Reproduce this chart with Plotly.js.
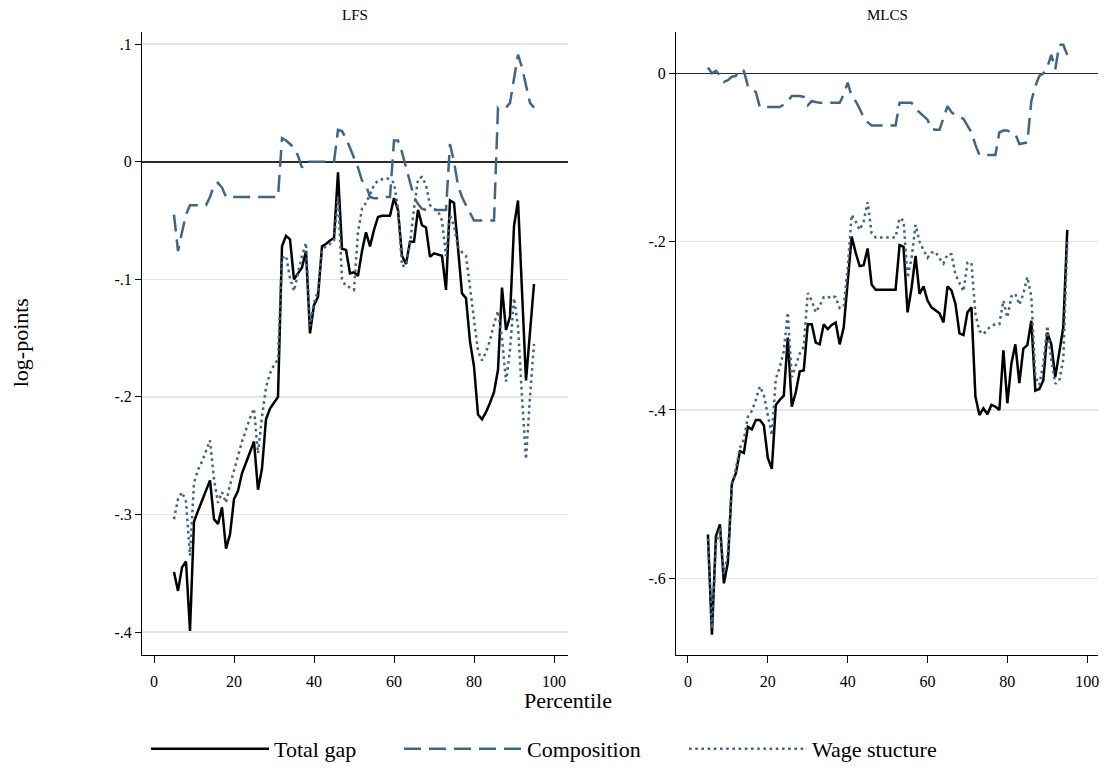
<!DOCTYPE html>
<html>
<head>
<meta charset="utf-8">
<script src="https://cdn.plot.ly/plotly-3.0.1.min.js"></script>
<style>html,body{margin:0;padding:0;background:#fff;}#chart{width:1107px;height:770px;}</style>
</head>
<body>
<div id="chart"></div>
<script>
const percentiles = [5,6,7,8,9,10,11,12,13,14,15,16,17,18,19,20,21,22,23,24,25,26,27,28,29,30,31,32,33,34,35,36,37,38,39,40,41,42,43,44,45,46,47,48,49,50,51,52,53,54,55,56,57,58,59,60,61,62,63,64,65,66,67,68,69,70,71,72,73,74,75,76,77,78,79,80,81,82,83,84,85,86,87,88,89,90,91,92,93,94,95];

const lfsTotal = [
 -0.349,-0.365,-0.345,-0.340,-0.399,-0.306,-0.297,-0.288,-0.280,-0.271,
 -0.304,-0.308,-0.294,-0.329,-0.317,-0.287,-0.280,-0.265,-0.256,-0.247,
 -0.238,-0.279,-0.261,-0.219,-0.210,-0.205,-0.200,-0.072,-0.063,-0.066,
 -0.100,-0.095,-0.090,-0.076,-0.146,-0.122,-0.115,-0.072,-0.070,-0.067,
 -0.065,-0.009,-0.074,-0.075,-0.095,-0.094,-0.097,-0.076,-0.060,-0.072,
 -0.058,-0.047,-0.046,-0.046,-0.046,-0.031,-0.041,-0.080,-0.087,-0.068,
 -0.068,-0.041,-0.054,-0.056,-0.081,-0.078,-0.079,-0.080,-0.109,-0.033,
 -0.035,-0.073,-0.112,-0.116,-0.153,-0.174,-0.215,-0.219,-0.213,-0.205,
 -0.196,-0.177,-0.107,-0.143,-0.132,-0.055,-0.033,-0.110,-0.186,-0.145,
 -0.104];

const lfsComposition = [
 -0.045,-0.076,-0.060,-0.045,-0.037,-0.037,-0.037,-0.037,-0.037,-0.030,
 -0.020,-0.018,-0.022,-0.030,-0.030,-0.030,-0.030,-0.030,-0.030,-0.030,
 -0.030,-0.030,-0.030,-0.030,-0.030,-0.030,-0.030,0.020,0.018,0.015,
 0.012,0.005,-0.005,0.000,0.000,0.000,0.000,0.000,0.000,0.000,
 0.000,0.027,0.026,0.020,0.012,0.004,-0.005,-0.016,-0.020,-0.030,
 -0.031,-0.031,-0.031,-0.030,-0.030,0.018,0.018,0.008,-0.005,-0.018,
 -0.030,-0.036,-0.040,-0.041,-0.041,-0.041,-0.041,-0.041,-0.041,0.015,
 0.000,-0.020,-0.030,-0.037,-0.044,-0.050,-0.050,-0.050,-0.050,-0.050,
 -0.050,0.046,0.046,0.046,0.050,0.070,0.091,0.080,0.065,0.050,
 0.046];

const lfsWage = [
 -0.304,-0.287,-0.281,-0.289,-0.335,-0.273,-0.262,-0.255,-0.246,-0.237,
 -0.270,-0.290,-0.281,-0.290,-0.275,-0.262,-0.250,-0.238,-0.228,-0.218,
 -0.210,-0.248,-0.217,-0.192,-0.180,-0.173,-0.168,-0.082,-0.080,-0.099,
 -0.110,-0.094,-0.080,-0.069,-0.140,-0.120,-0.110,-0.075,-0.072,-0.070,
 -0.067,-0.030,-0.100,-0.106,-0.107,-0.109,-0.060,-0.040,-0.035,-0.028,
 -0.020,-0.016,-0.015,-0.014,-0.015,-0.018,-0.040,-0.089,-0.088,-0.070,
 -0.040,-0.015,-0.013,-0.020,-0.037,-0.040,-0.042,-0.050,-0.080,-0.045,
 -0.055,-0.072,-0.077,-0.080,-0.107,-0.132,-0.161,-0.169,-0.162,-0.152,
 -0.138,-0.127,-0.150,-0.187,-0.160,-0.116,-0.140,-0.200,-0.253,-0.200,
 -0.155];

const mlcsTotal = [
 -0.548,-0.667,-0.550,-0.536,-0.606,-0.581,-0.487,-0.475,-0.449,-0.451,
 -0.420,-0.423,-0.412,-0.412,-0.418,-0.457,-0.470,-0.394,-0.388,-0.383,
 -0.314,-0.396,-0.379,-0.354,-0.353,-0.298,-0.298,-0.320,-0.322,-0.298,
 -0.304,-0.299,-0.296,-0.322,-0.302,-0.247,-0.194,-0.213,-0.229,-0.228,
 -0.208,-0.251,-0.257,-0.257,-0.257,-0.257,-0.257,-0.257,-0.204,-0.206,
 -0.284,-0.255,-0.217,-0.262,-0.253,-0.270,-0.278,-0.281,-0.285,-0.296,
 -0.253,-0.258,-0.274,-0.309,-0.311,-0.284,-0.278,-0.384,-0.406,-0.398,
 -0.405,-0.394,-0.396,-0.400,-0.329,-0.392,-0.345,-0.322,-0.368,-0.327,
 -0.323,-0.294,-0.377,-0.375,-0.365,-0.308,-0.322,-0.361,-0.331,-0.302,
 -0.186];

const mlcsComposition = [
 0.007,0.000,0.003,-0.002,-0.010,-0.008,-0.004,-0.003,0.005,0.003,
 -0.015,-0.020,-0.022,-0.040,-0.040,-0.040,-0.040,-0.040,-0.040,-0.037,
 -0.033,-0.027,-0.027,-0.027,-0.028,-0.038,-0.033,-0.034,-0.035,-0.035,
 -0.035,-0.035,-0.035,-0.035,-0.025,-0.011,-0.027,-0.033,-0.042,-0.052,
 -0.058,-0.062,-0.062,-0.062,-0.062,-0.062,-0.062,-0.062,-0.035,-0.035,
 -0.035,-0.035,-0.042,-0.046,-0.050,-0.055,-0.066,-0.067,-0.067,-0.052,
 -0.039,-0.046,-0.050,-0.052,-0.054,-0.062,-0.070,-0.085,-0.097,-0.097,
 -0.097,-0.097,-0.097,-0.070,-0.068,-0.068,-0.070,-0.072,-0.084,-0.083,
 -0.082,-0.033,-0.015,-0.003,0.000,0.007,0.022,0.005,0.034,0.034,
 0.022];

const mlcsWage = [
 -0.553,-0.660,-0.560,-0.540,-0.595,-0.570,-0.490,-0.470,-0.445,-0.435,
 -0.408,-0.401,-0.388,-0.372,-0.382,-0.408,-0.430,-0.363,-0.349,-0.330,
 -0.284,-0.361,-0.347,-0.333,-0.325,-0.261,-0.270,-0.284,-0.276,-0.266,
 -0.267,-0.264,-0.266,-0.279,-0.277,-0.231,-0.168,-0.176,-0.186,-0.176,
 -0.153,-0.190,-0.195,-0.195,-0.195,-0.195,-0.195,-0.195,-0.172,-0.175,
 -0.243,-0.220,-0.180,-0.200,-0.210,-0.219,-0.213,-0.212,-0.220,-0.226,
 -0.215,-0.215,-0.239,-0.249,-0.259,-0.225,-0.225,-0.286,-0.306,-0.310,
 -0.304,-0.300,-0.298,-0.298,-0.270,-0.290,-0.265,-0.262,-0.275,-0.262,
 -0.242,-0.265,-0.360,-0.370,-0.345,-0.300,-0.340,-0.369,-0.365,-0.340,
 -0.200];

const seriesNames = ['Total gap', 'Composition', 'Wage stucture'];
const panelTitles = ['LFS', 'MLCS'];
const xTickVals = [0, 20, 40, 60, 80, 100];
const lfsYTickVals = [0.1, 0, -0.1, -0.2, -0.3, -0.4];
const lfsYTickText = ['.1', '0', '-.1', '-.2', '-.3', '-.4'];
const mlcsYTickVals = [0, -0.2, -0.4, -0.6];
const mlcsYTickText = ['0', '-.2', '-.4', '-.6'];

const FONT = '"Liberation Serif", "Times New Roman", Times, serif';
const BLACK = '#000000';
const BLUE = '#3f6688';
const W = 1107, H = 770;

const DASH = '17px,8px';
const DOT = '2.6px,3.6px';
function line(x, y, name, color, dash, xa, ya, show, leg) {
  return {x: x, y: y, name: name, type: 'scatter', mode: 'lines',
    xaxis: xa, yaxis: ya, showlegend: show, legend: leg,
    line: {color: color, width: 2.5, dash: dash}, hoverinfo: 'skip'};
}
const traces = [
  line(percentiles, lfsTotal, seriesNames[0], BLACK, 'solid', 'x', 'y', true, 'legend'),
  line(percentiles, lfsComposition, seriesNames[1], BLUE, DASH, 'x', 'y', true, 'legend2'),
  line(percentiles, lfsWage, seriesNames[2], BLUE, DOT, 'x', 'y', true, 'legend3'),
  line(percentiles, mlcsTotal, seriesNames[0], BLACK, 'solid', 'x2', 'y2', false, 'legend'),
  line(percentiles, mlcsComposition, seriesNames[1], BLUE, DASH, 'x2', 'y2', false, 'legend2'),
  line(percentiles, mlcsWage, seriesNames[2], BLUE, DOT, 'x2', 'y2', false, 'legend3')
];

const yTop = 1 - 32 / H, yBot = 1 - 660 / H;
function xaxis(domain, range, anchor) {
  return {domain: domain, range: range, anchor: anchor, tickvals: xTickVals,
    ticks: 'outside', ticklen: 7, tickwidth: 1, tickcolor: '#000', ticklabelstandoff: 5,
    showline: true, linecolor: '#000', linewidth: 1, showgrid: false, zeroline: false,
    tickfont: {family: FONT, size: 16, color: '#000'}};
}
function yaxis(range, vals, text, anchor) {
  return {domain: [yBot, yTop], range: range, anchor: anchor, tickvals: vals, ticktext: text,
    ticks: 'outside', ticklen: 6, tickwidth: 1, tickcolor: '#000',
    showline: true, linecolor: '#000', linewidth: 1,
    showgrid: true, gridcolor: '#e6e6e6', gridwidth: 1.5,
    zeroline: true, zerolinecolor: '#2a2a2a', zerolinewidth: 1.8,
    tickfont: {family: FONT, size: 16, color: '#000'}};
}
function legend(xpx) {
  return {orientation: 'h', x: xpx / W, xanchor: 'left', y: 1 - 755 / H, yanchor: 'middle',
    font: {family: FONT, size: 22, color: '#000'}, itemwidth: 118,
    bgcolor: 'rgba(0,0,0,0)', borderwidth: 0};
}

const layout = {
  width: W, height: H,
  margin: {l: 0, r: 0, t: 0, b: 0},
  paper_bgcolor: '#fff', plot_bgcolor: '#fff',
  showlegend: true,
  font: {family: FONT, color: '#000'},
  xaxis: xaxis([142 / W, 568 / W], [-3, 103.5], 'y'),
  yaxis: yaxis([-0.4194, 0.1105], lfsYTickVals, lfsYTickText, 'x'),
  xaxis2: xaxis([676 / W, 1098 / W], [-3, 102.7], 'y2'),
  yaxis2: yaxis([-0.691, 0.0495], mlcsYTickVals, mlcsYTickText, 'x2'),
  legend: legend(146),
  legend2: legend(399),
  legend3: legend(684),
  annotations: [
    {text: panelTitles[0], xref: 'paper', yref: 'paper', x: 355 / W, y: 1 - 15 / H,
     showarrow: false, font: {family: FONT, size: 15, color: '#000'}, xanchor: 'center', yanchor: 'middle'},
    {text: panelTitles[1], xref: 'paper', yref: 'paper', x: 887 / W, y: 1 - 15 / H,
     showarrow: false, font: {family: FONT, size: 15, color: '#000'}, xanchor: 'center', yanchor: 'middle'},
    {text: 'Percentile', xref: 'paper', yref: 'paper', x: 568 / W, y: 1 - 706 / H,
     showarrow: false, font: {family: FONT, size: 22, color: '#000'}, xanchor: 'center', yanchor: 'middle'},
    {text: 'log-points', xref: 'paper', yref: 'paper', x: 20 / W, y: 1 - 346 / H, textangle: -90,
     showarrow: false, font: {family: FONT, size: 22, color: '#000'}, xanchor: 'center', yanchor: 'middle'}
  ]
};

Plotly.newPlot('chart', traces, layout, {staticPlot: true, displayModeBar: false});
</script>
</body>
</html>
